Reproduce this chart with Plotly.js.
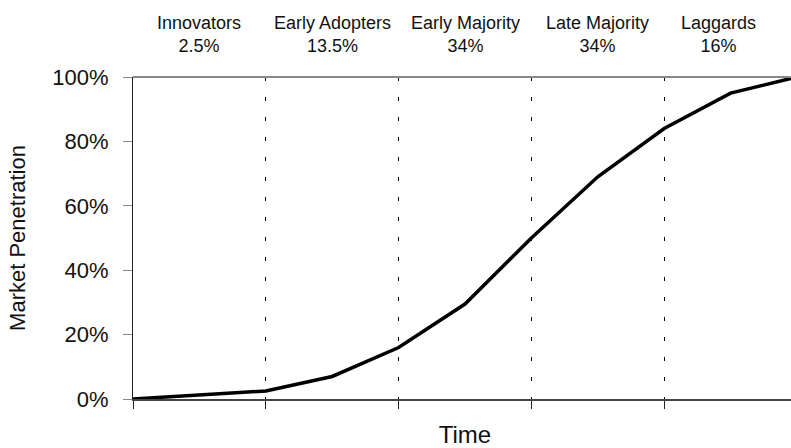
<!DOCTYPE html>
<html>
<head>
<meta charset="utf-8">
<script src="https://cdn.plot.ly/plotly-3.0.1.min.js"></script>
<style>
  body { margin: 0; overflow: hidden; background: #fff; }
  #graph { width: 800px; height: 448px; }
</style>
</head>
<body>
<div id="graph"></div>
<script>
// cumulative market penetration
var time = [0, 1, 1.5, 2, 2.5, 3, 3.5, 4, 4.5, 5];
var penetration = [0, 2.5, 7, 16, 29.5, 50, 69, 84, 95, 100];

// adopter groups, one per time unit
var groupNames = ['Innovators', 'Early Adopters', 'Early Majority', 'Late Majority', 'Laggards'];
var groupShares = ['2.5%', '13.5%', '34%', '34%', '16%'];
var groupCenters = [0.5, 1.5, 2.5, 3.5, 4.5];

// y tick labels
var yTicks = [0, 20, 40, 60, 80, 100];
var yTickLabels = ['0%', '20%', '40%', '60%', '80%', '100%'];

var font = 'Liberation Sans, Arial, sans-serif';

var trace = {
  type: 'scatter',
  mode: 'lines',
  x: time,
  y: penetration,
  line: { color: '#000', width: 3.5 },
  hoverinfo: 'x+y'
};

var annotations = [];
for (var i = 0; i < groupNames.length; i++) {
  annotations.push({
    x: groupCenters[i],
    xref: 'x',
    y: 1.132,
    yref: 'paper',
    yanchor: 'middle',
    // last label sits a bit left in the original, the plot is cut at the right
    xshift: i === groupNames.length - 1 ? -12 : 0,
    text: groupNames[i] + '<br>' + groupShares[i],
    showarrow: false,
    font: { family: font, size: 18, color: '#111' }
  });
}

var layout = {
  width: 800,
  height: 448,
  margin: { l: 133, r: 3, t: 77, b: 49 },
  paper_bgcolor: '#fff',
  plot_bgcolor: '#fff',
  showlegend: false,
  font: { family: font, color: '#111' },
  xaxis: {
    range: [0, 5],
    tickvals: [0, 1, 2, 3, 4, 5],
    showticklabels: false,
    ticks: 'outside',
    ticklen: 8,
    tickcolor: '#222',
    showline: true,
    linecolor: '#444',
    linewidth: 1.5,
    showgrid: true,
    gridcolor: '#000',
    gridwidth: 1,
    griddash: '4px,16px',
    zeroline: false,
    fixedrange: true,
    title: { text: 'Time', font: { family: font, size: 24, color: '#111' }, standoff: 29 }
  },
  yaxis: {
    range: [0, 100],
    tickmode: 'array',
    tickvals: yTicks,
    ticktext: yTickLabels,
    ticks: 'outside',
    ticklen: 9,
    tickcolor: '#888',
    ticklabelstandoff: 10,
    tickfont: { family: font, size: 22, color: '#111' },
    showline: true,
    linecolor: '#222',
    linewidth: 1,
    showgrid: false,
    zeroline: false,
    fixedrange: true,
    title: { text: 'Market Penetration', font: { family: font, size: 22, color: '#111' }, standoff: 20 }
  },
  shapes: [{
    type: 'line',
    xref: 'paper', yref: 'paper',
    x0: 0, x1: 1, y0: 1, y1: 1,
    line: { color: '#888', width: 2 }
  }],
  annotations: annotations
};

Plotly.newPlot('graph', [trace], layout, { displayModeBar: false, staticPlot: true });
</script>
</body>
</html>
